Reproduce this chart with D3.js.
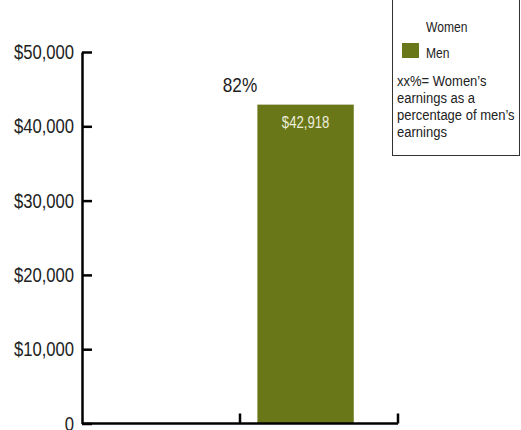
<!DOCTYPE html>
<html>
<head>
<meta charset="utf-8">
<script src="https://cdn.jsdelivr.net/npm/d3@7"></script>
<style>
  body { margin: 0; background: #fff; }
  svg { display: block; font-family: "Liberation Sans", Arial, sans-serif; }
</style>
</head>
<body>
<div id="chart"></div>
<script>
//chart data
var categories = ["Women", "Men"];
var earnings = [35200, 42918];
var barColors = ["#ffffff", "#697718"];
var showValue = [false, true];
var pctLabel = "82%";
var yTicks = [0, 10000, 20000, 30000, 40000, 50000];
var legendNote = ["xx%= Women\u2019s", "earnings as a", "percentage of men\u2019s", "earnings"];

var width = 521, height = 430;

var svg = d3.select("#chart").append("svg")
    .attr("width", width)
    .attr("height", height);

//helper: put a text at x,y and squeeze it horizontally (condensed look)
function at(px, py, sx) {
  return "translate(" + px + "," + py + ") scale(" + (sx || 0.82) + ",1)";
}

//scales
var x = d3.scaleBand().domain(categories).range([82, 398]).padding(0);
var y = d3.scaleLinear().domain([0, 50000]).range([423.5, 52]);

//bars
svg.selectAll("rect.bar")
  .data(categories)
  .enter().append("rect")
    .attr("class", "bar")
    .attr("x", function(d) { return x(d) + x.bandwidth() * 0.11; })
    .attr("width", x.bandwidth() * 0.61)
    .attr("y", function(d, i) { return y(earnings[i]); })
    .attr("height", function(d, i) { return y(0) - y(earnings[i]); })
    .attr("fill", function(d, i) { return barColors[i]; });

//value labels inside bars
svg.selectAll("text.val")
  .data(categories.filter(function(d, i) { return showValue[i]; }))
  .enter().append("text")
    .attr("class", "val")
    .attr("transform", function(d) {
      return at(x(d) + x.bandwidth() * 0.415, y(earnings[categories.indexOf(d)]) + 23);
    })
    .attr("text-anchor", "middle")
    .attr("font-size", 16)
    .attr("fill", "#eeeedd")
    .text(function(d) { return d3.format("$,")(earnings[categories.indexOf(d)]); });

//percentage label
svg.append("text")
  .attr("transform", at(x("Men"), y(earnings[1]) - 13))
  .attr("text-anchor", "middle")
  .attr("font-size", 21)
  .attr("fill", "#222")
  .text(pctLabel);

//y axis
var yAxis = svg.append("g")
  .attr("class", "y-axis")
  .attr("transform", "translate(82,0)")
  .call(d3.axisLeft(y).tickValues(yTicks).tickSizeInner(-10).tickSizeOuter(0).tickPadding(8)
    .tickFormat(function(d) { return d === 0 ? "0" : d3.format("$,")(d); }));

yAxis.select(".domain").attr("stroke", "#000").attr("stroke-width", 2.5);
yAxis.selectAll(".tick line").attr("stroke", "#000").attr("stroke-width", 2.5);
yAxis.selectAll(".tick text")
  .attr("font-family", "Liberation Sans, Arial, sans-serif")
  .attr("font-size", 20.3)
  .attr("fill", "#222")
  .attr("x", null)
  .attr("transform", function() { return at(-8, 0); });

//x axis
var xg = svg.append("g").attr("class", "x-axis");
xg.append("line")
  .attr("x1", x.range()[0]).attr("x2", x.range()[1])
  .attr("y1", y(0)).attr("y2", y(0))
  .attr("stroke", "#000").attr("stroke-width", 2.5);
xg.selectAll("line.tick")
  .data(categories)
  .enter().append("line")
    .attr("class", "tick")
    .attr("x1", function(d) { return x(d) + x.bandwidth(); })
    .attr("x2", function(d) { return x(d) + x.bandwidth(); })
    .attr("y1", y(0) - 10)
    .attr("y2", y(0))
    .attr("stroke", "#000").attr("stroke-width", 2.5);

//legend
var legend = svg.append("g").attr("class", "legend");
legend.append("rect")
  .attr("x", 392.5).attr("y", -2)
  .attr("width", 127).attr("height", 157.5)
  .attr("fill", "#fff").attr("stroke", "#333").attr("stroke-width", 1);

categories.forEach(function(c, i) {
  legend.append("rect")
    .attr("x", 402).attr("y", 17 + i * 26)
    .attr("width", 17).attr("height", 15)
    .attr("fill", barColors[i]);
  legend.append("text")
    .attr("transform", at(426, 32 + i * 26, 0.78))
    .attr("font-size", 15.5)
    .attr("fill", "#222")
    .text(c);
});

legend.selectAll("text.note")
  .data(legendNote)
  .enter().append("text")
    .attr("class", "note")
    .attr("transform", function(d, i) { return at(397, 86 + i * 17, 0.84); })
    .attr("font-size", 15.5)
    .attr("fill", "#222")
    .text(function(d) { return d; });
</script>
</body>
</html>
